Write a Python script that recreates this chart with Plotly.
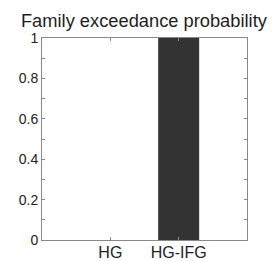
import plotly.graph_objects as go

categories = ["HG", "HG-IFG"]
positions = [1, 2]
values = [0.0, 1.0]
y_ticks = [0, 0.2, 0.4, 0.6, 0.8, 1]
y_tick_labels = ["0", "0.2", "0.4", "0.6", "0.8", "1"]

fig = go.Figure()
fig.add_trace(go.Bar(
    x=positions, y=values, width=0.6,
    marker=dict(color="#333333", line=dict(width=0)),
))

fig.update_layout(
    width=280, height=261,
    margin=dict(l=42, r=33, t=38, b=21, autoexpand=False),
    paper_bgcolor="white", plot_bgcolor="white",
    showlegend=False,
    font=dict(family="Liberation Sans, Arial, sans-serif", color="#222222"),
    title=dict(text="Family exceedance probability", x=0.514, xanchor="center",
               xref="container", yref="container",
               y=0.947, yanchor="top", font=dict(size=18.3, color="#1e1e1e")),
)
fig.update_xaxes(
    range=[0, 3], tickmode="array", tickvals=positions, ticktext=categories,
    ticks="inside", ticklen=3, tickcolor="#888888",
    showline=True, linecolor="#888888", linewidth=1, mirror="ticks",
    showgrid=False, zeroline=False, tickfont=dict(size=16), automargin=False,
    ticklabelstandoff=-2,
)
fig.update_yaxes(
    range=[0, 1], tickmode="array", tickvals=y_ticks, ticktext=y_tick_labels,
    ticks="inside", ticklen=3, tickcolor="#888888",
    minor=dict(dtick=0.1, ticks="inside", ticklen=3, tickcolor="#888888"),
    showline=True, linecolor="#888888", linewidth=1, mirror="ticks",
    showgrid=False, zeroline=False, tickfont=dict(size=14), automargin=False,
)
fig.write_html(
    "out.html",
    config={"displayModeBar": False},
    post_script="document.body.style.margin='0';document.body.style.overflow='hidden';",
)
